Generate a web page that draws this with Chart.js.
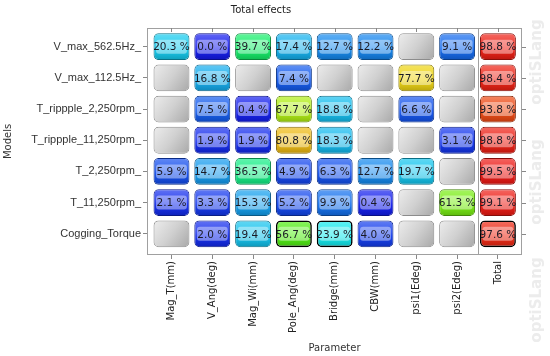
<!DOCTYPE html>
<html>
<head>
<meta charset="utf-8">
<script src="https://cdn.jsdelivr.net/npm/chart.js@4"></script>
<style>
  html, body { margin: 0; padding: 0; background: #fff; }
</style>
</head>
<body>
<canvas id="chrt" width="550" height="356"></canvas>
<script>
// models (rows) and parameters (columns)
const models = ['V_max_562.5Hz_', 'V_max_112.5Hz_', 'T_rippple_2,250rpm_', 'T_rippple_11,250rpm_',
                'T_2,250rpm_', 'T_11,250rpm_', 'Cogging_Torque'];
const params = ['Mag_T(mm)', 'V_Ang(deg)', 'Mag_Wi(mm)', 'Pole_Ang(deg)', 'Bridge(mm)',
                'CBW(mm)', 'psi1(Edeg)', 'psi2(Edeg)', 'Total'];

// total effects in %, null = not in model (grey cell)
const vMax562     = [20.3, 0.0, 39.7, 17.4, 12.7, 12.2, null, 9.1, 98.8];
const vMax112     = [null, 16.8, null, 7.4, null, null, 77.7, null, 98.4];
const tRipple2250 = [null, 7.5, 0.4, 67.7, 18.8, null, 6.6, null, 93.8];
const tRipple11250 = [null, 1.9, 1.9, 80.8, 18.3, null, null, 3.1, 98.8];
const t2250       = [5.9, 14.7, 36.5, 4.9, 6.3, 12.7, 19.7, null, 99.5];
const t11250      = [2.1, 3.3, 15.3, 5.2, 9.9, 0.4, null, 61.3, 99.1];
const cogging     = [null, 2.0, 19.4, 56.7, 23.9, 4.0, null, null, 97.6];

const rows = [vMax562, vMax112, tRipple2250, tRipple11250, t2250, t11250, cogging];

// cells drawn with a black frame [row, col]
const highlighted = [[6, 3], [6, 4], [6, 8]];

const FONT = '"DejaVu Sans", Verdana, sans-serif';

function isHigh(r, c) {
    return highlighted.some(function(h) { return h[0] === r && h[1] === c; });
}

function hsl(v, dl) {
    let h = 238 * (1 - v / 100);
    return 'hsl(' + h.toFixed(1) + ',86%,' + (52 + dl) + '%)';
}

function cellFill(ctx) {
    let chart = ctx.chart;
    let raw = ctx.raw;
    if (!chart.chartArea || !raw) return '#ccc';
    let ys = chart.scales.y, xs = chart.scales.x;
    let y1 = ys.getPixelForValue(raw.y[0]), y2 = ys.getPixelForValue(raw.y[1]);
    let top = Math.min(y1, y2), bot = Math.max(y1, y2);
    let c = chart.ctx;
    if (raw.v === null) {
        let cx = xs.getPixelForValue(raw.x);
        let g = c.createLinearGradient(cx - 18, top, cx + 18, bot);
        g.addColorStop(0, '#ededed');
        g.addColorStop(0.5, '#d0d0d0');
        g.addColorStop(1, '#a8a8a8');
        return g;
    }
    let g = c.createLinearGradient(0, top, 0, bot);
    g.addColorStop(0, hsl(raw.v, 15));
    g.addColorStop(0.45, hsl(raw.v, 5));
    g.addColorStop(0.6, hsl(raw.v, 0));
    g.addColorStop(1, hsl(raw.v, -13));
    return g;
}

let datasets = rows.map(function(vals, r) {
    return {
        label: models[r],
        data: vals.map(function(v, c) { return { x: c, y: [r - 0.43, r + 0.43], v: v }; }),
        backgroundColor: cellFill,
        borderColor: function(ctx) {
            if (!ctx.raw) return '#888';
            if (isHigh(r, ctx.dataIndex)) return '#000';
            return ctx.raw.v === null ? '#8c8c8c' : hsl(ctx.raw.v, -24);
        },
        borderWidth: function(ctx) { return isHigh(r, ctx.dataIndex) ? 1.6 : 1; },
        borderRadius: 5,
        borderSkipped: false,
        barPercentage: 0.88,
        categoryPercentage: 1,
        grouped: false
    };
});

function noPad(s) {
    s.paddingLeft = 0;
    s.paddingRight = 0;
    s.paddingTop = 0;
    s.paddingBottom = 0;
}

const decor = {
    id: 'decor',
    beforeDraw(chart) {
        let ctx = chart.ctx;
        ctx.save();
        ctx.fillStyle = '#ececec';
        ctx.font = 'bold 15px ' + FONT;
        ctx.textAlign = 'center';
        ctx.textBaseline = 'middle';
        [62, 182, 300].forEach(function(y) {
            ctx.save();
            ctx.translate(537, y);
            ctx.rotate(-Math.PI / 2);
            ctx.fillText('optiSLang', 0, 0);
            ctx.restore();
        });
        ctx.restore();
    },
    afterDatasetsDraw(chart) {
        let ctx = chart.ctx, a = chart.chartArea;
        let xs = chart.scales.x, ys = chart.scales.y;
        ctx.save();
        ctx.lineWidth = 1;
        ctx.strokeStyle = '#a0a0a0';
        ctx.strokeRect(a.left + 0.5, a.top + 0.5, a.right - a.left - 1, a.bottom - a.top - 1);
        // separator before the Total column
        let sx = Math.round(xs.getPixelForValue(params.length - 1.5)) + 0.5;
        ctx.beginPath();
        ctx.moveTo(sx, a.top);
        ctx.lineTo(sx, a.bottom);
        ctx.stroke();
        // mirrored ticks: top (inside) and right (outside)
        ctx.strokeStyle = '#888';
        ctx.beginPath();
        xs.ticks.forEach(function(t) {
            let px = Math.round(xs.getPixelForValue(t.value)) + 0.5;
            ctx.moveTo(px, a.top);
            ctx.lineTo(px, a.top + 4);
        });
        ys.ticks.forEach(function(t) {
            let py = Math.round(ys.getPixelForValue(t.value)) + 0.5;
            ctx.moveTo(a.right, py);
            ctx.lineTo(a.right + 4, py);
        });
        ctx.stroke();

        // value labels with light band
        ctx.font = '10.5px ' + FONT;
        ctx.textAlign = 'center';
        ctx.textBaseline = 'middle';
        chart.data.datasets.forEach(function(ds, di) {
            chart.getDatasetMeta(di).data.forEach(function(bar, i) {
                let v = ds.data[i].v;
                if (v === null) return;
                let p = bar.getProps(['x', 'y', 'base', 'width'], true);
                let cy = (p.y + p.base) / 2;
                ctx.fillStyle = 'rgba(255,255,255,0.42)';
                ctx.beginPath();
                ctx.roundRect(p.x - p.width / 2 + 2.5, cy - 7, p.width - 5, 14, 3);
                ctx.fill();
                ctx.fillStyle = '#1a1a24';
                ctx.fillText(v.toFixed(1) + ' %', p.x, cy + 1);
            });
        });
        ctx.restore();
    }
};

new Chart(document.getElementById('chrt').getContext('2d'), {
    type: 'bar',
    data: { datasets: datasets },
    plugins: [decor],
    options: {
        responsive: false,
        animation: false,
        events: [],
        layout: { padding: { left: 0, right: 28, top: 0, bottom: 0 } },
        plugins: {
            legend: { display: false },
            tooltip: { enabled: false },
            title: {
                display: true,
                text: 'Total effects',
                color: '#222',
                font: { family: FONT, size: 10, weight: 'normal' },
                padding: { top: 4, bottom: 12 }
            }
        },
        scales: {
            x: {
                type: 'linear',
                position: 'bottom',
                offset: false,
                min: -0.6,
                max: 8.59,
                afterFit: function(s) { s.height = 101; noPad(s); },
                grid: { display: true, offset: false, drawOnChartArea: false, drawTicks: true, tickLength: 4, color: '#888' },
                border: { display: false },
                ticks: {
                    stepSize: 1,
                    includeBounds: false,
                    autoSkip: false,
                    minRotation: 90,
                    maxRotation: 90,
                    padding: 2,
                    color: '#222',
                    font: { family: FONT, size: 10 },
                    callback: function(v) { return Number.isInteger(v) && params[v] ? params[v] : ''; }
                },
                title: {
                    display: true,
                    text: 'Parameter',
                    color: '#333',
                    font: { family: FONT, size: 10 },
                    padding: { top: 4, bottom: 2 }
                }
            },
            y: {
                type: 'linear',
                reverse: true,
                offset: false,
                min: -0.6,
                max: 6.68,
                afterFit: function(s) { s.width = 147; noPad(s); },
                grid: { display: true, drawOnChartArea: false, drawTicks: true, tickLength: 4, color: '#888' },
                border: { display: false },
                ticks: {
                    stepSize: 1,
                    includeBounds: false,
                    padding: 2,
                    color: '#333',
                    font: { family: '"Liberation Sans", Arial, sans-serif', size: 11 },
                    callback: function(v) { return Number.isInteger(v) && models[v] ? models[v] : ''; }
                },
                title: {
                    display: true,
                    text: 'Models',
                    color: '#333',
                    font: { family: FONT, size: 10 },
                    padding: { top: 2, bottom: 2 }
                }
            }
        }
    }
});
</script>
</body>
</html>
